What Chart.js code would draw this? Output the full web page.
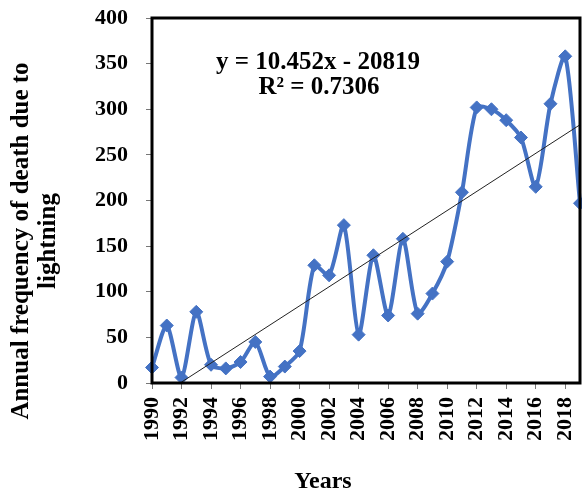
<!DOCTYPE html>
<html>
<head>
<meta charset="utf-8">
<script src="https://cdn.jsdelivr.net/npm/chart.js@4"></script>
<style>
  html, body { margin: 0; padding: 0; background: #fff; }
  #wrap { width: 582px; height: 495px; }
</style>
</head>
<body>
<div id="wrap"><canvas id="lineChart" width="582" height="495"></canvas></div>
<script>
// data
const years = [1990, 1991, 1992, 1993, 1994, 1995, 1996, 1997, 1998, 1999,
  2000, 2001, 2002, 2003, 2004, 2005, 2006, 2007, 2008, 2009,
  2010, 2011, 2012, 2013, 2014, 2015, 2016, 2017, 2018, 2019];
const deaths = [17, 63, 6, 78, 20, 16, 23, 45, 7, 18,
  35, 129, 118, 173, 53, 140, 74, 158, 76, 98,
  133, 209, 302, 300, 288, 269, 215, 306, 358, 197];
// linear trend line end points
const trendYears = [1992, 2019];
const trendValues = [1, 283];
const equationLines = ['y = 10.452x - 20819', 'R\u00B2 = 0.7306'];
const yTitleLines = ['Annual frequency of death due to', 'lightning'];
const xTitle = 'Years';

const serif = '"Liberation Serif", "Times New Roman", serif';

// frame, equation and axis titles
const extras = {
  id: 'extras',
  afterDraw(chart) {
    const ctx = chart.ctx;
    const a = chart.chartArea;
    ctx.save();
    ctx.strokeStyle = '#000';
    ctx.lineWidth = 3;
    ctx.strokeRect(a.left, a.top, a.right - a.left, a.bottom - a.top);

    ctx.fillStyle = '#000';
    ctx.textAlign = 'center';
    ctx.textBaseline = 'middle';
    ctx.font = 'bold 25px ' + serif;
    ctx.fillText(equationLines[0], 318, 63);
    ctx.fillText(equationLines[1], 319, 88);

    ctx.font = 'bold 24px ' + serif;
    ctx.fillText(xTitle, 323, 482);

    ctx.translate(0, 241);
    ctx.rotate(-Math.PI / 2);
    ctx.font = 'bold 25px ' + serif;
    ctx.fillText(yTitleLines[0], 0, 22);
    ctx.fillText(yTitleLines[1], 0, 49);
    ctx.restore();
  }
};

// keep the plot area fixed regardless of label overhang
function noPad(scale) {
  scale.paddingLeft = 0;
  scale.paddingRight = 0;
  scale.paddingTop = 0;
  scale.paddingBottom = 0;
}

new Chart(document.getElementById('lineChart'), {
  type: 'line',
  data: {
    datasets: [
      {
        label: 'Linear trend',
        data: trendYears.map((x, i) => ({ x: x, y: trendValues[i] })),
        borderColor: '#222',
        borderWidth: 1,
        pointRadius: 0,
        tension: 0
      },
      {
        label: 'Deaths',
        data: years.map((x, i) => ({ x: x, y: deaths[i] })),
        borderColor: '#4472C4',
        backgroundColor: '#4472C4',
        borderWidth: 4,
        tension: 0.25,
        pointStyle: 'rectRot',
        pointRadius: 6.5,
        pointBorderWidth: 1,
        clip: 8
      }
    ]
  },
  options: {
    responsive: false,
    animation: false,
    layout: { autoPadding: false, padding: { left: 0, right: 2, top: 18, bottom: 0 } },
    plugins: {
      legend: { display: false },
      tooltip: { enabled: false }
    },
    scales: {
      x: {
        type: 'linear',
        min: 1990,
        max: 2019,
        afterFit(scale) { scale.height = 112; noPad(scale); },
        border: { display: false },
        grid: { drawOnChartArea: false, drawTicks: true, tickLength: 6, color: '#777' },
        ticks: {
          stepSize: 2,
          includeBounds: false,
          autoSkip: false,
          maxRotation: 90,
          minRotation: 90,
          padding: 8,
          color: '#000',
          font: { family: serif, size: 22, weight: 'bold' },
          callback: (v) => String(v)
        }
      },
      y: {
        min: 0,
        max: 400,
        afterFit(scale) { scale.width = 152; noPad(scale); },
        border: { display: false },
        grid: { drawOnChartArea: false, drawTicks: true, tickLength: 6, color: '#777' },
        ticks: {
          stepSize: 50,
          padding: 18,
          color: '#000',
          font: { family: serif, size: 22, weight: 'bold' }
        }
      }
    }
  },
  plugins: [extras]
});
</script>
</body>
</html>
